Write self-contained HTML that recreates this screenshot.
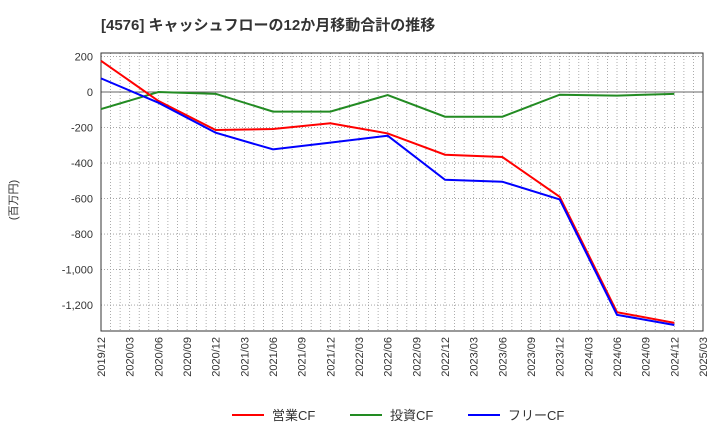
<!DOCTYPE html>
<html><head><meta charset="utf-8"><style>
body{margin:0;background:#fff;font-family:"Liberation Sans","Noto Sans CJK JP",sans-serif}
</style></head><body>
<svg id="c" width="720" height="440" xmlns="http://www.w3.org/2000/svg">
<text x="101" y="30" font-size="15" font-weight="bold" fill="#333" font-family="Liberation Sans, Noto Sans CJK JP, sans-serif">[4576]  キャッシュフローの12か月移動合計の推移</text>
<g id="grid"></g><g id="axes"></g><g id="series"></g>
<text transform="translate(17,200) rotate(-90)" font-size="11" fill="#333" text-anchor="middle">(百万円)</text>
<g>
<line x1="232" y1="415" x2="264" y2="415" stroke="#f00" stroke-width="2"/><text x="272" y="420" font-size="13" fill="#333">営業CF</text>
<line x1="350" y1="415" x2="382" y2="415" stroke="#228b22" stroke-width="2"/><text x="390" y="420" font-size="13" fill="#333">投資CF</text>
<line x1="468" y1="415" x2="500" y2="415" stroke="#00f" stroke-width="2"/><text x="508" y="420" font-size="13" fill="#333">フリーCF</text>
</g>
</svg>
<script>
const xLabels=["2019/12","2020/03","2020/06","2020/09","2020/12","2021/03","2021/06","2021/09","2021/12","2022/03","2022/06","2022/09","2022/12","2023/03","2023/06","2023/09","2023/12","2024/03","2024/06","2024/09","2024/12","2025/03"];
const yTicks=[200,0,-200,-400,-600,-800,-1000,-1200];
const dataIdx=[0,2,4,6,8,10,12,14,16,18,20];
const operatingCF=[176,-50,-214,-208,-176,-233,-353,-366,-590,-1240,-1300];
const investingCF=[-96,0,-10,-110,-110,-17,-139,-139,-15,-20,-10];
const freeCF=[77,-60,-229,-323,-285,-246,-494,-505,-605,-1255,-1312];
const L=101,R=703,T=53,B=331,y0v=220,y1v=-1346;
const NS="http://www.w3.org/2000/svg";
const X=i=>L+(R-L)*i/(xLabels.length-1);
const Y=v=>T+(B-T)*(y0v-v)/(y0v-y1v);
function mk(t,a,p){const e=document.createElementNS(NS,t);for(const k in a)e.setAttribute(k,a[k]);p.appendChild(e);return e;}
const g=document.getElementById('grid'),ax=document.getElementById('axes'),s=document.getElementById('series');
for(let m=1;m<(xLabels.length-1)*3;m++){const x=L+(R-L)*m/((xLabels.length-1)*3);
const l=mk('line',{x1:x,x2:x,y1:T,y2:B,stroke:'#999','stroke-dasharray':'1,2','stroke-width':0.8},g);

}
yTicks.forEach(v=>{const y=Y(v);
const l=mk('line',{x1:L,x2:R,y1:y,y2:y,stroke:v==0?'#666':'#999','stroke-dasharray':v==0?'':'1,2','stroke-width':v==0?1:0.8},g);


const t=mk('text',{x:L-8,y:y+4,'font-size':11,fill:'#333','text-anchor':'end'},ax);t.textContent=v.toLocaleString('en-US');

});
const fr=mk('rect',{x:L,y:T,width:R-L,height:B-T,fill:'none',stroke:'#333','stroke-width':1},ax);


xLabels.forEach((lb,i)=>{const x=X(i);
const t=mk('text',{transform:`translate(${x+4},${B+6}) rotate(-90)`,'font-size':11,fill:'#333','text-anchor':'end'},ax);t.textContent=lb;

});
[[investingCF,'#228b22','investing-cf-line'],[operatingCF,'#f00','operating-cf-line'],[freeCF,'#00f','free-cf-line']].forEach(([d,c,n])=>{
const p=mk('polyline',{points:d.map((v,i)=>X(dataIdx[i])+','+Y(v)).join(' '),fill:'none',stroke:c,'stroke-width':2},s);

});
</script>
</body></html>
